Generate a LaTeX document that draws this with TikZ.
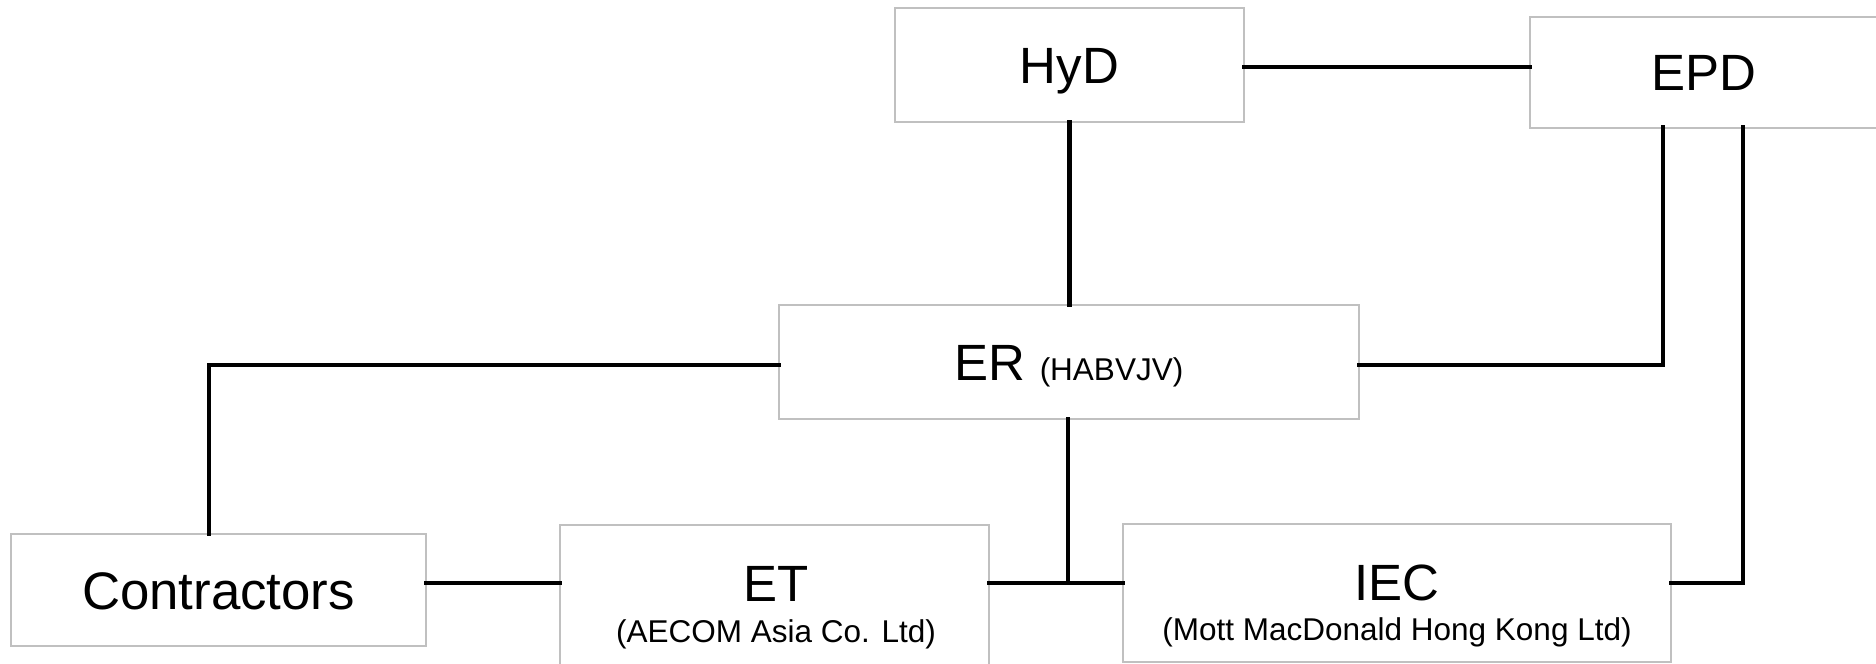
\documentclass[tikz,border=0pt]{standalone}
\usepackage{fontspec}
\setmainfont{Liberation Sans}
\usetikzlibrary{calc}
\definecolor{boxgray}{HTML}{C0C0C0}
\begin{document}
\begin{tikzpicture}[x=0.5pt,y=-0.5pt,
  box/.style={draw=boxgray, line width=1pt, fill=white, inner sep=0pt, outer sep=0pt,
    rectangle, text height=18.3pt, text depth=0pt, font=\fontsize{25.5}{30}\selectfont},
  conn/.style={line width=2.4pt, line cap=rect},
  big/.style={inner sep=0pt, anchor=base, font=\fontsize{25.5}{30}\selectfont},
  small/.style={inner sep=0pt, anchor=base, font=\fontsize{15.75}{19}\selectfont}]
\useasboundingbox (0,0) rectangle (1876,664);
\clip (0,0) rectangle (1876,664);
\fill[white] (0,0) rectangle (1876,664);
% boxes
\node[box, minimum width=174.5pt, minimum height=57pt] (hyd) at (1069.5,65) {HyD};
\node[box, minimum width=174pt, minimum height=55.5pt] (epd) at (1704,72) {EPD};
\node[box, minimum width=290pt, minimum height=57pt] (er) at (1069,362)
  {ER {\fontsize{15.75}{19}\selectfont (HABVJV)}};
\node[box, minimum width=207.5pt, minimum height=56pt, text height=19pt,
  font=\fontsize{26.4}{31}\selectfont] (contr) at (218.5,590) {Contractors};
\node[box, minimum width=214.5pt, minimum height=81pt] (et) at (774.5,606) {};
\node[box, minimum width=274pt, minimum height=69pt] (iec) at (1397,593) {};
% box texts
\node[big] (ett) at (776,601) {ET};
\node[small] (etsub) at (776,642) {(AECOM Asia Co. Ltd)};
\node[big] (iect) at (1397,600) {IEC};
\node[small] (iecsub) at (1397,640) {(Mott MacDonald Hong Kong Ltd)};
% junction
\coordinate (j) at (1068,583);
\coordinate (hr) at ($(hyd.east)+(0,2)$);
\coordinate (erl) at ($(er.west)+(0,3)$);
\coordinate (err) at ($(er.east)+(0,3)$);
\coordinate (ctop) at ($(contr.north)+(-9.5,0)$);
\coordinate (epdA) at ($(epd.south west)+(133,0)$);
\coordinate (epdB) at ($(epd.south west)+(213,0)$);
% connectors
\draw[conn] (hr) -- (hr -| epd.west);
\draw[conn] (hyd.south) -- (hyd.south |- er.north);
\draw[conn] (erl) -| (ctop);
\draw[conn] (err) -| (epdA);
\draw[conn] (epdB) |- (iec.east |- j);
\draw[conn] (contr.east |- j) -- (et.west |- j);
\draw[conn] (et.east |- j) -- (iec.west |- j);
\draw[conn] (er.south -| j) -- (j);
\end{tikzpicture}
\end{document}
